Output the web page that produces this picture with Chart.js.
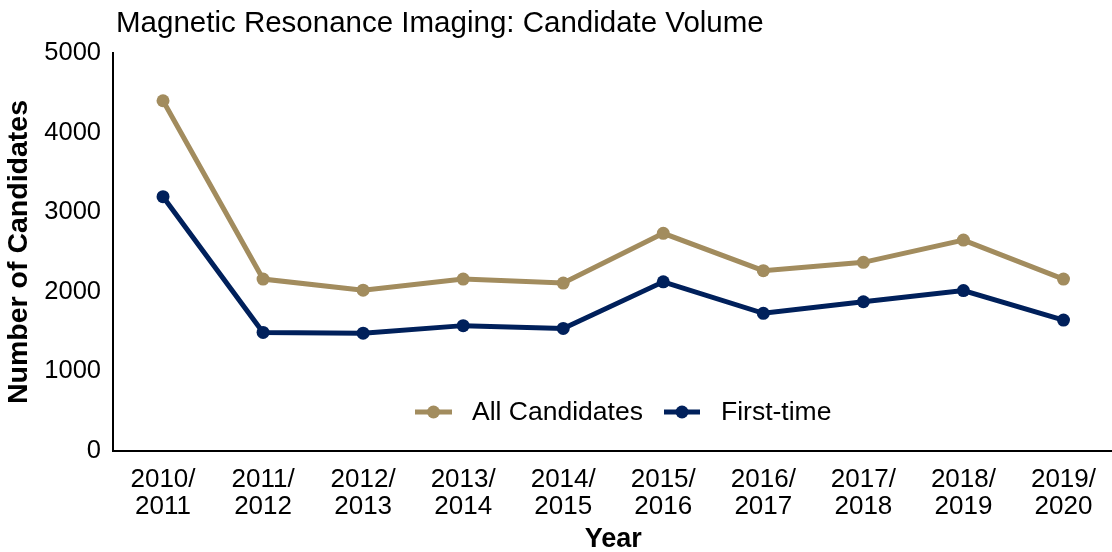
<!DOCTYPE html>
<html>
<head>
<meta charset="utf-8">
<script src="https://cdn.jsdelivr.net/npm/chart.js@4/dist/chart.umd.min.js"></script>
<style>
html,body{margin:0;padding:0;background:#fff;overflow:hidden;}
#wrap{width:1120px;height:552px;position:relative;}
</style>
</head>
<body>
<div id="wrap"><canvas id="c" width="1120" height="552"></canvas></div>
<script>
const titleText = "Magnetic Resonance Imaging: Candidate Volume";
const categories = [["2010/","2011"],["2011/","2012"],["2012/","2013"],["2013/","2014"],["2014/","2015"],["2015/","2016"],["2016/","2017"],["2017/","2018"],["2018/","2019"],["2019/","2020"]];
const allCandidates = [4400, 2160, 2020, 2160, 2110, 2735, 2265, 2370, 2650, 2160];
const firstTime = [3195, 1490, 1480, 1575, 1540, 2125, 1730, 1875, 2015, 1645];
const yTicks = [0, 1000, 2000, 3000, 4000, 5000];
const seriesNames = ["All Candidates", "First-time"];
const seriesColors = ["#A28C5E", "#00205B"];

const FONT = "'Liberation Sans', Arial, sans-serif";

const customPlugin = {
  id: 'custom',
  afterDraw(chart) {
    const ctx = chart.ctx;
    ctx.save();
    // title
    ctx.fillStyle = '#000';
    ctx.font = "29.5px " + FONT;
    ctx.textAlign = 'left';
    ctx.textBaseline = 'alphabetic';
    ctx.fillText(titleText, 116, 32);
    // legend
    const items = [
      {x0: 415, x1: 452, tx: 472},
      {x0: 664, x1: 700, tx: 721}
    ];
    const ly = 412;
    chart.data.datasets.forEach((ds, i) => {
      const it = items[i];
      ctx.strokeStyle = ds.borderColor;
      ctx.lineWidth = 5;
      ctx.beginPath();
      ctx.moveTo(it.x0, ly);
      ctx.lineTo(it.x1, ly);
      ctx.stroke();
      ctx.fillStyle = ds.borderColor;
      ctx.beginPath();
      ctx.arc((it.x0 + it.x1) / 2, ly, 6.5, 0, Math.PI * 2);
      ctx.fill();
      ctx.fillStyle = '#000';
      ctx.font = "26.5px " + FONT;
      ctx.textBaseline = 'middle';
      ctx.fillText(ds.label, it.tx, ly + 1);
    });
    ctx.restore();
  }
};

new Chart(document.getElementById('c'), {
  type: 'line',
  data: {
    labels: categories,
    datasets: [
      {label: seriesNames[0], data: allCandidates, borderColor: seriesColors[0], backgroundColor: seriesColors[0],
       borderWidth: 5, pointRadius: 6.5, pointBackgroundColor: seriesColors[0], pointBorderWidth: 0, tension: 0},
      {label: seriesNames[1], data: firstTime, borderColor: seriesColors[1], backgroundColor: seriesColors[1],
       borderWidth: 5, pointRadius: 6.5, pointBackgroundColor: seriesColors[1], pointBorderWidth: 0, tension: 0}
    ]
  },
  options: {
    responsive: false,
    animation: false,
    layout: {padding: {top: 53, left: 0, right: 0, bottom: 0}},
    plugins: {legend: {display: false}, title: {display: false}, tooltip: {enabled: false}},
    scales: {
      x: {
        offset: true,
        grid: {display: false, drawTicks: false},
        border: {display: true, color: '#000', width: 2},
        ticks: {color: '#000', font: {family: FONT, size: 26, lineHeight: 1.04}, padding: 15, maxRotation: 0, autoSkip: false},
        title: {display: true, text: 'Year', color: '#000', font: {family: FONT, size: 27, weight: 'bold', lineHeight: 0.9}, padding: 0},
        afterFit(s) { s.height = 101; }
      },
      y: {
        min: 0, max: 5000,
        grid: {display: false, drawTicks: false},
        border: {display: true, color: '#000', width: 2},
        afterBuildTicks(s) { s.ticks = yTicks.map(v => ({value: v})); },
        ticks: {color: '#000', font: {family: FONT, size: 25.5}, padding: 12, callback: v => String(v)},
        title: {display: true, text: 'Number of Candidates', color: '#000', font: {family: FONT, size: 28.5, weight: 'bold'}, padding: {top: 2, bottom: 0}},
        afterFit(s) { s.width = 113; }
      }
    }
  },
  plugins: [customPlugin]
});
</script>
</body>
</html>
